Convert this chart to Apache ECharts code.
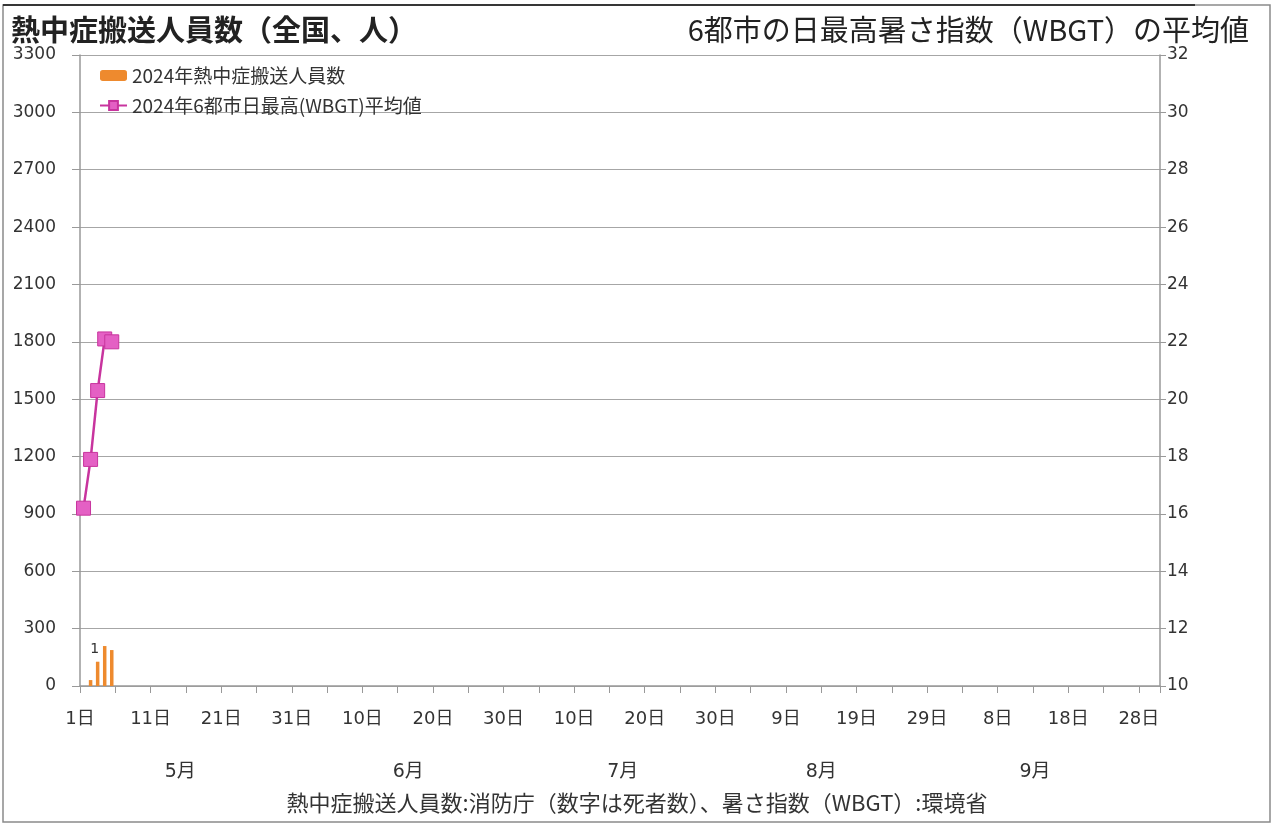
<!DOCTYPE html>
<html><head><meta charset="utf-8">
<script src="https://cdn.jsdelivr.net/npm/echarts@6/dist/echarts.min.js"></script>
<style>html,body{margin:0;padding:0;background:#fff}#c{width:1274px;height:827px}</style>
</head><body><div id="c"></div>
<script>
// ---- data ----
const monthNames = ['5月', '6月', '7月', '8月', '9月'];
const monthNums = [5, 6, 7, 8, 9];
const monthDays = [31, 30, 31, 31, 30];
const monthLabelPos = [14.2, 46.5, 76.9, 105, 135.3]; // position of month caption in day units
const heatstrokeCases = [0, 31, 127, 209, 188];      // 2024 熱中症搬送人員数 (May 1..)
const deaths = [0, 0, 1, 0, 0];                       // 死者数
const wbgtAvg = [16.2, 17.9, 20.3, 22.1, 22.0];       // 6都市日最高WBGT平均
const leftTicks = {min: 0, max: 3300, interval: 300};
const rightTicks = {min: 10, max: 32, interval: 2};

const categories = [];
monthNums.forEach((m, i) => { for (let d = 1; d <= monthDays[i]; d++) categories.push(m + '月' + d + '日'); });
const totalDays = categories.length;

const numFont = "'DejaVu Sans', 'Noto Sans CJK JP'";
const jpFont = "'Noto Sans CJK JP'";
const chart = echarts.init(document.getElementById('c'));
chart.setOption({
  animation: false,
  backgroundColor: '#fff',
  grid: {left: 80, right: 114, top: 55, bottom: 141, containLabel: false},
  title: [
    {text: '熱中症搬送人員数（全国、人）', left: 6, top: 10,
     textStyle: {fontFamily: jpFont, fontSize: 29, fontWeight: 'bold', color: '#222'}},
    {text: '6都市の日最高暑さ指数（WBGT）の平均値', right: 20, top: 10,
     textStyle: {fontFamily: jpFont, fontSize: 29, fontWeight: 'normal', color: '#222'}}
  ],
  legend: {
    orient: 'vertical', left: 94, top: 61, itemGap: 11, itemWidth: 27, itemHeight: 11,
    textStyle: {fontFamily: jpFont, fontSize: 19, color: '#333'},
    data: ['2024年熱中症搬送人員数', '2024年6都市日最高(WBGT)平均値']
  },
  xAxis: [
    {type: 'category', data: categories, boundaryGap: true,
     axisLine: {lineStyle: {color: '#999', width: 1.5}},
     axisTick: {show: true, interval: 4, length: 7, lineStyle: {color: '#999'}},
     axisLabel: {interval: 9, margin: 24, fontFamily: numFont, fontSize: 18, color: '#333',
       padding: [0, 7, 0, 0],
       formatter: v => v.split('月')[1]},
     splitLine: {show: false}},
    {type: 'value', min: 0, max: totalDays, position: 'bottom',
     axisLine: {show: false}, axisTick: {show: false}, splitLine: {show: false},
     axisLabel: {customValues: monthLabelPos, margin: 77, fontFamily: numFont, fontSize: 19, color: '#333',
       formatter: v => monthNames[monthLabelPos.indexOf(v)] || ''}}
  ],
  yAxis: [
    {type: 'value', min: leftTicks.min, max: leftTicks.max, interval: leftTicks.interval, position: 'left',
     axisLine: {show: true, lineStyle: {color: '#999', width: 1.5}},
     axisTick: {show: true, length: 8, lineStyle: {color: '#999'}},
     axisLabel: {margin: 24, fontFamily: numFont, fontSize: 17, color: '#333', formatter: v => String(v)},
     splitLine: {show: true, lineStyle: {color: '#a6a6a6', width: 1.2}}},
    {type: 'value', min: rightTicks.min, max: rightTicks.max, interval: rightTicks.interval, position: 'right',
     axisLine: {show: true, lineStyle: {color: '#999', width: 1.5}},
     axisTick: {show: true, length: 6, lineStyle: {color: '#999'}},
     axisLabel: {margin: 7, fontFamily: numFont, fontSize: 17, color: '#333', formatter: v => String(v)},
     splitLine: {show: false}}
  ],
  series: [
    {name: '2024年熱中症搬送人員数', type: 'bar', xAxisIndex: 0, yAxisIndex: 0,
     data: heatstrokeCases, barWidth: 3.5,
     itemStyle: {color: '#EE8A2E'},
     label: {show: true, position: 'top', offset: [-3, 0], fontFamily: numFont, fontSize: 14,
       color: '#333',
       formatter: p => deaths[p.dataIndex] ? String(deaths[p.dataIndex]) : ''}},
    {name: '2024年6都市日最高(WBGT)平均値', type: 'line', xAxisIndex: 0, yAxisIndex: 1,
     data: wbgtAvg, symbol: 'rect', symbolSize: 14, showSymbol: true, showAllSymbol: true,
     lineStyle: {color: '#C8349E', width: 2.5},
     itemStyle: {color: '#E460C4', borderColor: '#C8349E', borderWidth: 1}}
  ],
  graphic: [
    {type: 'rect', shape: {x: 3, y: 5, width: 1267, height: 817}, silent: true,
     style: {fill: 'none', stroke: '#8a8a8a', lineWidth: 1.5}},
    {type: 'line', shape: {x1: 3, y1: 5, x2: 1195, y2: 5}, silent: true,
     style: {stroke: '#111', lineWidth: 1.5}},
    {type: 'text', left: 'center', top: 792, silent: true,
     style: {text: '熱中症搬送人員数:消防庁（数字は死者数）、暑さ指数（WBGT）:環境省',
       font: "22px 'Noto Sans CJK JP'", fill: '#333'}}
  ]
});
</script></body></html>
